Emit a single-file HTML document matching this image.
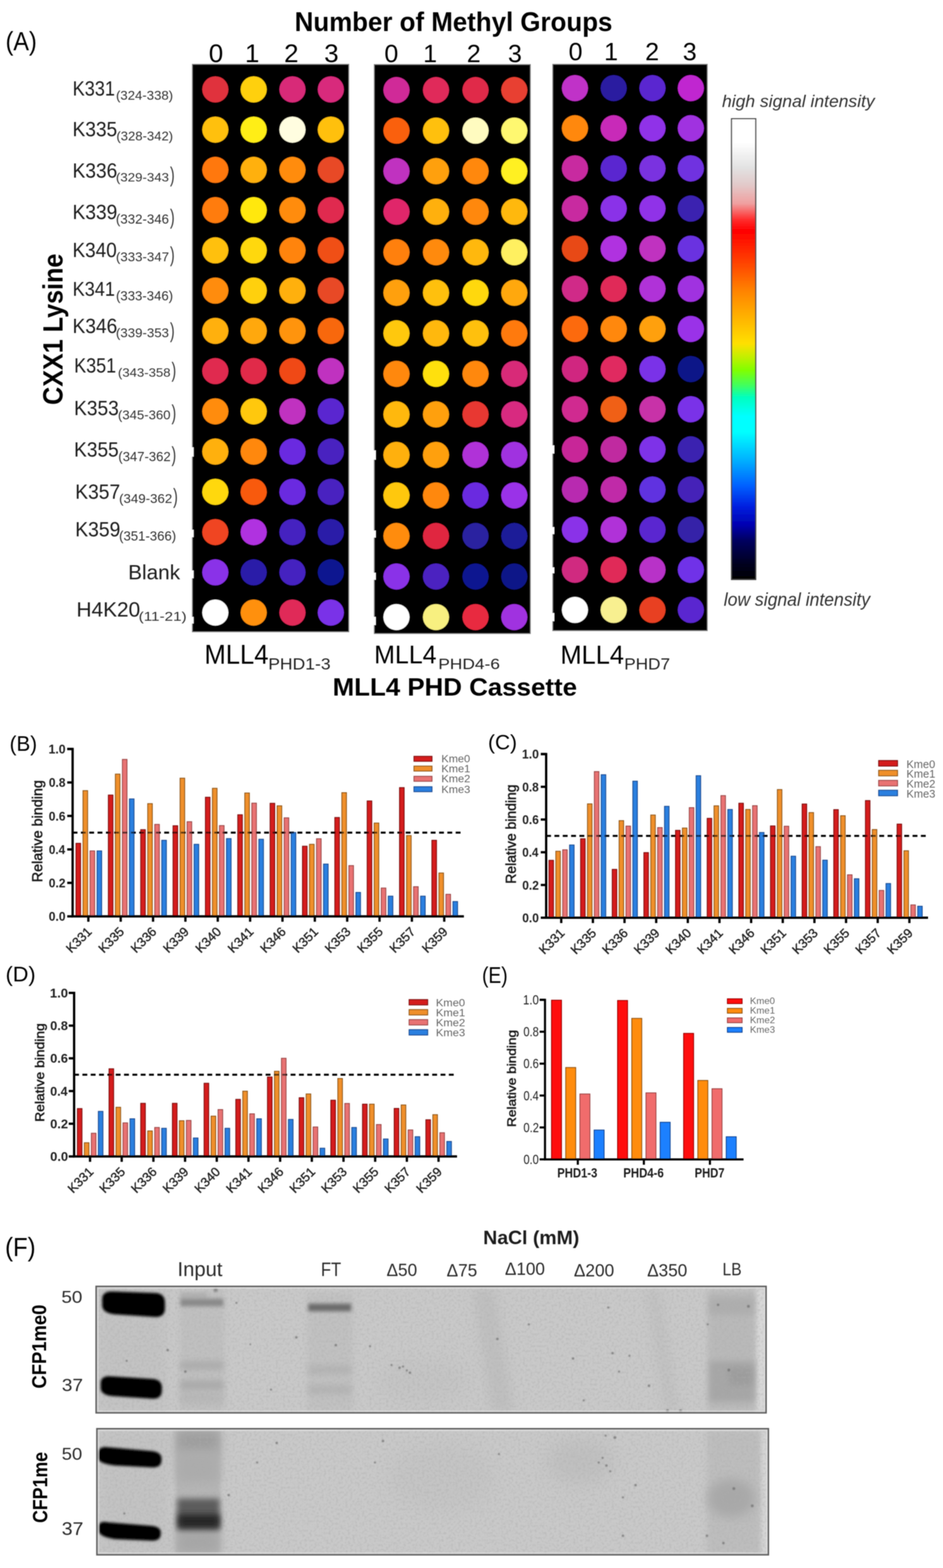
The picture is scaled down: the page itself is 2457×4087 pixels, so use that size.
<!DOCTYPE html>
<html><head><meta charset="utf-8"><title>Figure</title>
<style>
html,body{margin:0;padding:0;background:#fff;}
body{width:2457px;height:4087px;overflow:hidden;}
svg{display:block;font-family:'Liberation Sans', Arial, sans-serif;}
</style></head><body>
<svg width="2457" height="4087" viewBox="0 0 2457 4087">
<defs><filter id="soft" x="-2%" y="-2%" width="104%" height="104%"><feGaussianBlur stdDeviation="0.8"/></filter></defs>
<rect width="2457" height="4087" fill="#fff"/>
<g filter="url(#soft)">
<rect x="501" y="167.5" width="408" height="1479.5" fill="#000" stroke="#8a8a8a" stroke-width="2"/>
<circle cx="561" cy="233.0" r="34" fill="#e0303c"/>
<circle cx="661" cy="233.0" r="34" fill="#ffd010"/>
<circle cx="762" cy="233.0" r="34" fill="#d82a78"/>
<circle cx="862" cy="233.0" r="34" fill="#d82a7c"/>
<circle cx="561" cy="337.9" r="34" fill="#ffc010"/>
<circle cx="661" cy="337.9" r="34" fill="#ffee18"/>
<circle cx="762" cy="337.9" r="34" fill="#fffde0"/>
<circle cx="862" cy="337.9" r="34" fill="#ffc010"/>
<circle cx="561" cy="442.8" r="34" fill="#ff7810"/>
<circle cx="661" cy="442.8" r="34" fill="#ffb010"/>
<circle cx="762" cy="442.8" r="34" fill="#ff8c10"/>
<circle cx="862" cy="442.8" r="34" fill="#e84a28"/>
<circle cx="561" cy="547.7" r="34" fill="#ff7c10"/>
<circle cx="661" cy="547.7" r="34" fill="#ffe810"/>
<circle cx="762" cy="547.7" r="34" fill="#ff8c10"/>
<circle cx="862" cy="547.7" r="34" fill="#e02a50"/>
<circle cx="561" cy="652.6" r="34" fill="#ffc010"/>
<circle cx="661" cy="652.6" r="34" fill="#ffd810"/>
<circle cx="762" cy="652.6" r="34" fill="#ff8410"/>
<circle cx="862" cy="652.6" r="34" fill="#f05018"/>
<circle cx="561" cy="757.5" r="34" fill="#ff8c10"/>
<circle cx="661" cy="757.5" r="34" fill="#ffd010"/>
<circle cx="762" cy="757.5" r="34" fill="#ffb010"/>
<circle cx="862" cy="757.5" r="34" fill="#e84a28"/>
<circle cx="561" cy="862.4" r="34" fill="#ffb010"/>
<circle cx="661" cy="862.4" r="34" fill="#ffa810"/>
<circle cx="762" cy="862.4" r="34" fill="#ff9410"/>
<circle cx="862" cy="862.4" r="34" fill="#f86810"/>
<circle cx="561" cy="967.3" r="34" fill="#e02a50"/>
<circle cx="661" cy="967.3" r="34" fill="#e02a48"/>
<circle cx="762" cy="967.3" r="34" fill="#f04818"/>
<circle cx="862" cy="967.3" r="34" fill="#c030c0"/>
<circle cx="561" cy="1072.2" r="34" fill="#ff8c10"/>
<circle cx="661" cy="1072.2" r="34" fill="#ffc810"/>
<circle cx="762" cy="1072.2" r="34" fill="#c030c0"/>
<circle cx="862" cy="1072.2" r="34" fill="#5a28d0"/>
<circle cx="561" cy="1177.1" r="34" fill="#ffb010"/>
<circle cx="661" cy="1177.1" r="34" fill="#ff8810"/>
<circle cx="762" cy="1177.1" r="34" fill="#6a2ae0"/>
<circle cx="862" cy="1177.1" r="34" fill="#4a24c0"/>
<circle cx="561" cy="1282.0" r="34" fill="#ffd810"/>
<circle cx="661" cy="1282.0" r="34" fill="#f85a10"/>
<circle cx="762" cy="1282.0" r="34" fill="#6a2ae0"/>
<circle cx="862" cy="1282.0" r="34" fill="#4a24c0"/>
<circle cx="561" cy="1386.9" r="34" fill="#f04420"/>
<circle cx="661" cy="1386.9" r="34" fill="#b030e0"/>
<circle cx="762" cy="1386.9" r="34" fill="#4424c0"/>
<circle cx="862" cy="1386.9" r="34" fill="#2a1ca8"/>
<circle cx="561" cy="1491.8" r="34" fill="#8a30e8"/>
<circle cx="661" cy="1491.8" r="34" fill="#2a1ca8"/>
<circle cx="762" cy="1491.8" r="34" fill="#4424c0"/>
<circle cx="862" cy="1491.8" r="34" fill="#101890"/>
<circle cx="561" cy="1596.7" r="34" fill="#ffffff"/>
<circle cx="661" cy="1596.7" r="34" fill="#ff9010"/>
<circle cx="762" cy="1596.7" r="34" fill="#e02a58"/>
<circle cx="862" cy="1596.7" r="34" fill="#7a30e8"/>
<rect x="975" y="168" width="407" height="1483.5" fill="#000" stroke="#8a8a8a" stroke-width="2"/>
<circle cx="1033" cy="234.8" r="34" fill="#d02a98"/>
<circle cx="1136" cy="234.8" r="34" fill="#e02a5a"/>
<circle cx="1239" cy="234.8" r="34" fill="#e02a48"/>
<circle cx="1340" cy="234.8" r="34" fill="#e84030"/>
<circle cx="1033" cy="340.5" r="34" fill="#fa6010"/>
<circle cx="1136" cy="340.5" r="34" fill="#ffc010"/>
<circle cx="1239" cy="340.5" r="34" fill="#fffbc0"/>
<circle cx="1340" cy="340.5" r="34" fill="#fff870"/>
<circle cx="1033" cy="446.1" r="34" fill="#c030c0"/>
<circle cx="1136" cy="446.1" r="34" fill="#ffa010"/>
<circle cx="1239" cy="446.1" r="34" fill="#ff8810"/>
<circle cx="1340" cy="446.1" r="34" fill="#fff020"/>
<circle cx="1033" cy="551.8" r="34" fill="#e0286a"/>
<circle cx="1136" cy="551.8" r="34" fill="#ffb010"/>
<circle cx="1239" cy="551.8" r="34" fill="#ff8810"/>
<circle cx="1340" cy="551.8" r="34" fill="#ffb810"/>
<circle cx="1033" cy="657.4" r="34" fill="#ff8010"/>
<circle cx="1136" cy="657.4" r="34" fill="#ff8a10"/>
<circle cx="1239" cy="657.4" r="34" fill="#ffb810"/>
<circle cx="1340" cy="657.4" r="34" fill="#fff060"/>
<circle cx="1033" cy="763.1" r="34" fill="#ffa010"/>
<circle cx="1136" cy="763.1" r="34" fill="#ffc010"/>
<circle cx="1239" cy="763.1" r="34" fill="#ffd810"/>
<circle cx="1340" cy="763.1" r="34" fill="#ffa810"/>
<circle cx="1033" cy="868.8" r="34" fill="#ffc810"/>
<circle cx="1136" cy="868.8" r="34" fill="#ffb810"/>
<circle cx="1239" cy="868.8" r="34" fill="#ffc010"/>
<circle cx="1340" cy="868.8" r="34" fill="#ff7a10"/>
<circle cx="1033" cy="974.4" r="34" fill="#ff8810"/>
<circle cx="1136" cy="974.4" r="34" fill="#ffe010"/>
<circle cx="1239" cy="974.4" r="34" fill="#ff8810"/>
<circle cx="1340" cy="974.4" r="34" fill="#d82a78"/>
<circle cx="1033" cy="1080.1" r="34" fill="#ffb810"/>
<circle cx="1136" cy="1080.1" r="34" fill="#ffa010"/>
<circle cx="1239" cy="1080.1" r="34" fill="#e83830"/>
<circle cx="1340" cy="1080.1" r="34" fill="#d82a80"/>
<circle cx="1033" cy="1185.7" r="34" fill="#ffb010"/>
<circle cx="1136" cy="1185.7" r="34" fill="#ffa010"/>
<circle cx="1239" cy="1185.7" r="34" fill="#b030d8"/>
<circle cx="1340" cy="1185.7" r="34" fill="#a030e0"/>
<circle cx="1033" cy="1291.4" r="34" fill="#ffc810"/>
<circle cx="1136" cy="1291.4" r="34" fill="#ff8810"/>
<circle cx="1239" cy="1291.4" r="34" fill="#6a2ae0"/>
<circle cx="1340" cy="1291.4" r="34" fill="#9a30e8"/>
<circle cx="1033" cy="1397.1" r="34" fill="#ff8c10"/>
<circle cx="1136" cy="1397.1" r="34" fill="#e02840"/>
<circle cx="1239" cy="1397.1" r="34" fill="#2a20a0"/>
<circle cx="1340" cy="1397.1" r="34" fill="#1c1c98"/>
<circle cx="1033" cy="1502.7" r="34" fill="#8a30e8"/>
<circle cx="1136" cy="1502.7" r="34" fill="#4c24c0"/>
<circle cx="1239" cy="1502.7" r="34" fill="#101890"/>
<circle cx="1340" cy="1502.7" r="34" fill="#101888"/>
<circle cx="1033" cy="1608.4" r="34" fill="#ffffff"/>
<circle cx="1136" cy="1608.4" r="34" fill="#f8f080"/>
<circle cx="1239" cy="1608.4" r="34" fill="#e82a40"/>
<circle cx="1340" cy="1608.4" r="34" fill="#a030e0"/>
<rect x="1440" y="167.5" width="403" height="1476.5" fill="#000" stroke="#8a8a8a" stroke-width="2"/>
<circle cx="1498" cy="229.7" r="34" fill="#c030c8"/>
<circle cx="1599" cy="229.7" r="34" fill="#2a1aa0"/>
<circle cx="1700" cy="229.7" r="34" fill="#5a28d0"/>
<circle cx="1800" cy="229.7" r="34" fill="#c028d0"/>
<circle cx="1498" cy="334.3" r="34" fill="#ff8810"/>
<circle cx="1599" cy="334.3" r="34" fill="#c82ab8"/>
<circle cx="1700" cy="334.3" r="34" fill="#9030e8"/>
<circle cx="1800" cy="334.3" r="34" fill="#a030e0"/>
<circle cx="1498" cy="438.9" r="34" fill="#c82aa0"/>
<circle cx="1599" cy="438.9" r="34" fill="#5a28d0"/>
<circle cx="1700" cy="438.9" r="34" fill="#7a30e0"/>
<circle cx="1800" cy="438.9" r="34" fill="#7030e0"/>
<circle cx="1498" cy="543.6" r="34" fill="#c82aa0"/>
<circle cx="1599" cy="543.6" r="34" fill="#8a30e8"/>
<circle cx="1700" cy="543.6" r="34" fill="#9030e8"/>
<circle cx="1800" cy="543.6" r="34" fill="#3a22b0"/>
<circle cx="1498" cy="648.2" r="34" fill="#e84818"/>
<circle cx="1599" cy="648.2" r="34" fill="#b030e0"/>
<circle cx="1700" cy="648.2" r="34" fill="#c030c0"/>
<circle cx="1800" cy="648.2" r="34" fill="#6a30e0"/>
<circle cx="1498" cy="752.8" r="34" fill="#d02a88"/>
<circle cx="1599" cy="752.8" r="34" fill="#e02a58"/>
<circle cx="1700" cy="752.8" r="34" fill="#b030d8"/>
<circle cx="1800" cy="752.8" r="34" fill="#a030e0"/>
<circle cx="1498" cy="857.4" r="34" fill="#fc6a10"/>
<circle cx="1599" cy="857.4" r="34" fill="#ff8810"/>
<circle cx="1700" cy="857.4" r="34" fill="#ffa010"/>
<circle cx="1800" cy="857.4" r="34" fill="#9a30e8"/>
<circle cx="1498" cy="962.0" r="34" fill="#d02880"/>
<circle cx="1599" cy="962.0" r="34" fill="#e02a60"/>
<circle cx="1700" cy="962.0" r="34" fill="#7a30e8"/>
<circle cx="1800" cy="962.0" r="34" fill="#101888"/>
<circle cx="1498" cy="1066.7" r="34" fill="#d02a90"/>
<circle cx="1599" cy="1066.7" r="34" fill="#f06018"/>
<circle cx="1700" cy="1066.7" r="34" fill="#c830a8"/>
<circle cx="1800" cy="1066.7" r="34" fill="#7a30e8"/>
<circle cx="1498" cy="1171.3" r="34" fill="#c82898"/>
<circle cx="1599" cy="1171.3" r="34" fill="#c02ca0"/>
<circle cx="1700" cy="1171.3" r="34" fill="#7e30e8"/>
<circle cx="1800" cy="1171.3" r="34" fill="#3a22b0"/>
<circle cx="1498" cy="1275.9" r="34" fill="#b82ab0"/>
<circle cx="1599" cy="1275.9" r="34" fill="#c02aa8"/>
<circle cx="1700" cy="1275.9" r="34" fill="#6030e0"/>
<circle cx="1800" cy="1275.9" r="34" fill="#4424b8"/>
<circle cx="1498" cy="1380.5" r="34" fill="#8a30e8"/>
<circle cx="1599" cy="1380.5" r="34" fill="#b030d8"/>
<circle cx="1700" cy="1380.5" r="34" fill="#5a28d0"/>
<circle cx="1800" cy="1380.5" r="34" fill="#3420a8"/>
<circle cx="1498" cy="1485.1" r="34" fill="#d02a80"/>
<circle cx="1599" cy="1485.1" r="34" fill="#e02a58"/>
<circle cx="1700" cy="1485.1" r="34" fill="#b830c8"/>
<circle cx="1800" cy="1485.1" r="34" fill="#7030e8"/>
<circle cx="1498" cy="1589.8" r="34" fill="#ffffff"/>
<circle cx="1599" cy="1589.8" r="34" fill="#f8f090"/>
<circle cx="1700" cy="1589.8" r="34" fill="#e84020"/>
<circle cx="1800" cy="1589.8" r="34" fill="#5a28d0"/>
<rect x="499" y="1166" width="5.5" height="24" fill="#fff"/>
<rect x="499" y="1381" width="5.5" height="19" fill="#fff"/>
<rect x="499" y="1487" width="5.5" height="20" fill="#fff"/>
<rect x="499" y="1608" width="5.5" height="17" fill="#fff"/>
<rect x="973.5" y="1174" width="5.5" height="24" fill="#fff"/>
<rect x="973.5" y="1383" width="5.5" height="18" fill="#fff"/>
<rect x="973.5" y="1493" width="5.5" height="18" fill="#fff"/>
<rect x="973.5" y="1608" width="5.5" height="21" fill="#fff"/>
<rect x="1438.5" y="1161" width="5.5" height="21" fill="#fff"/>
<rect x="1438.5" y="1374" width="5.5" height="18" fill="#fff"/>
<rect x="1438.5" y="1479" width="5.5" height="15" fill="#fff"/>
<rect x="1438.5" y="1598" width="5.5" height="21" fill="#fff"/>
<text x="544.0" y="162.3" font-size="67.53" text-anchor="start">0</text>
<text x="638.3" y="162.3" font-size="67.53" text-anchor="start">1</text>
<text x="740.3" y="162.3" font-size="67.53" text-anchor="start">2</text>
<text x="844.7" y="162.3" font-size="67.53" text-anchor="start">3</text>
<text x="1001.5" y="162.3" font-size="65.23" text-anchor="start">0</text>
<text x="1102.6" y="162.3" font-size="65.23" text-anchor="start">1</text>
<text x="1216.3" y="162.3" font-size="65.23" text-anchor="start">2</text>
<text x="1323.4" y="162.3" font-size="65.23" text-anchor="start">3</text>
<text x="1481.5" y="157.3" font-size="65.23" text-anchor="start">0</text>
<text x="1574.0" y="157.3" font-size="65.23" text-anchor="start">1</text>
<text x="1681.1" y="157.3" font-size="65.23" text-anchor="start">2</text>
<text x="1779.1" y="157.3" font-size="65.23" text-anchor="start">3</text>
<text x="14.4" y="130.8" font-size="68.65" text-anchor="start" textLength="81.6" lengthAdjust="spacingAndGlyphs">(A)</text>
<text x="767.8" y="80.8" font-size="70.4" text-anchor="start" font-weight="bold" textLength="827.8" lengthAdjust="spacingAndGlyphs">Number of Methyl Groups</text>
<text x="866.7" y="1812.7" font-size="65.16" text-anchor="start" font-weight="bold" textLength="636.7" lengthAdjust="spacingAndGlyphs">MLL4 PHD Cassette</text>
<text x="532.8" y="1729.6" font-size="69.53" text-anchor="start" textLength="166.7" lengthAdjust="spacingAndGlyphs">MLL4</text>
<text x="698.9" y="1744.8" font-size="41.89" text-anchor="start" fill="#222" textLength="162.5" lengthAdjust="spacingAndGlyphs">PHD1-3</text>
<text x="975.1" y="1729.2" font-size="67.2" text-anchor="start" textLength="162.2" lengthAdjust="spacingAndGlyphs">MLL4</text>
<text x="1141.9" y="1744.3" font-size="39.71" text-anchor="start" fill="#222" textLength="160.7" lengthAdjust="spacingAndGlyphs">PHD4-6</text>
<text x="1460.2" y="1729.6" font-size="68.51" text-anchor="start" textLength="165.7" lengthAdjust="spacingAndGlyphs">MLL4</text>
<text x="1626.4" y="1744.8" font-size="41.89" text-anchor="start" fill="#222" textLength="119.5" lengthAdjust="spacingAndGlyphs">PHD7</text>
<text x="189.2" y="248.5" font-size="52.95" text-anchor="start" fill="#1a1a1a" textLength="110.3" lengthAdjust="spacingAndGlyphs">K331</text>
<text x="302.2" y="259.6" font-size="33.26" text-anchor="start" fill="#333" textLength="148.8" lengthAdjust="spacingAndGlyphs">(324-338)</text>
<text x="189.0" y="354.6" font-size="54.4" text-anchor="start" fill="#1a1a1a" textLength="116.3" lengthAdjust="spacingAndGlyphs">K335</text>
<text x="303.2" y="365.8" font-size="33.41" text-anchor="start" fill="#333" textLength="147.8" lengthAdjust="spacingAndGlyphs">(328-342)</text>
<text x="189.0" y="462.8" font-size="52.95" text-anchor="start" fill="#1a1a1a" textLength="116.5" lengthAdjust="spacingAndGlyphs">K336</text>
<text x="302.1" y="472.9" font-size="31.83" text-anchor="start" fill="#333" textLength="138.2" lengthAdjust="spacingAndGlyphs">(329-343</text>
<text x="443.1" y="474.4" font-size="55.17" text-anchor="start" fill="#333" textLength="11.9" lengthAdjust="spacingAndGlyphs">)</text>
<text x="189.0" y="570.5" font-size="52.95" text-anchor="start" fill="#1a1a1a" textLength="116.6" lengthAdjust="spacingAndGlyphs">K339</text>
<text x="302.1" y="582.7" font-size="34.84" text-anchor="start" fill="#333" textLength="138.2" lengthAdjust="spacingAndGlyphs">(332-346</text>
<text x="443.1" y="584.2" font-size="55.17" text-anchor="start" fill="#333" textLength="11.9" lengthAdjust="spacingAndGlyphs">)</text>
<text x="189.0" y="669.6" font-size="54.4" text-anchor="start" fill="#1a1a1a" textLength="115.1" lengthAdjust="spacingAndGlyphs">K340</text>
<text x="302.1" y="680.7" font-size="33.26" text-anchor="start" fill="#333" textLength="138.5" lengthAdjust="spacingAndGlyphs">(333-347</text>
<text x="443.1" y="682.2" font-size="55.17" text-anchor="start" fill="#333" textLength="11.9" lengthAdjust="spacingAndGlyphs">)</text>
<text x="189.2" y="770.7" font-size="51.49" text-anchor="start" fill="#1a1a1a" textLength="110.3" lengthAdjust="spacingAndGlyphs">K341</text>
<text x="302.2" y="782.8" font-size="34.84" text-anchor="start" fill="#333" textLength="148.8" lengthAdjust="spacingAndGlyphs">(333-346)</text>
<text x="189.0" y="867.5" font-size="52.95" text-anchor="start" fill="#1a1a1a" textLength="116.5" lengthAdjust="spacingAndGlyphs">K346</text>
<text x="302.1" y="878.6" font-size="33.26" text-anchor="start" fill="#333" textLength="138.2" lengthAdjust="spacingAndGlyphs">(339-353</text>
<text x="443.1" y="880.1" font-size="55.17" text-anchor="start" fill="#333" textLength="11.9" lengthAdjust="spacingAndGlyphs">)</text>
<text x="193.3" y="970.6" font-size="52.95" text-anchor="start" fill="#1a1a1a" textLength="109.2" lengthAdjust="spacingAndGlyphs">K351</text>
<text x="307.3" y="981.7" font-size="31.83" text-anchor="start" fill="#333" textLength="137.1" lengthAdjust="spacingAndGlyphs">(343-358</text>
<text x="447.1" y="983.2" font-size="55.17" text-anchor="start" fill="#333" textLength="11.9" lengthAdjust="spacingAndGlyphs">)</text>
<text x="193.1" y="1081.8" font-size="52.95" text-anchor="start" fill="#1a1a1a" textLength="116.4" lengthAdjust="spacingAndGlyphs">K353</text>
<text x="307.3" y="1092.9" font-size="33.41" text-anchor="start" fill="#333" textLength="136.9" lengthAdjust="spacingAndGlyphs">(345-360</text>
<text x="447.1" y="1094.4" font-size="55.17" text-anchor="start" fill="#333" textLength="11.9" lengthAdjust="spacingAndGlyphs">)</text>
<text x="193.1" y="1189.5" font-size="52.95" text-anchor="start" fill="#1a1a1a" textLength="116.2" lengthAdjust="spacingAndGlyphs">K355</text>
<text x="308.3" y="1201.7" font-size="34.84" text-anchor="start" fill="#333" textLength="136.4" lengthAdjust="spacingAndGlyphs">(347-362</text>
<text x="447.1" y="1203.2" font-size="55.17" text-anchor="start" fill="#333" textLength="11.9" lengthAdjust="spacingAndGlyphs">)</text>
<text x="196.1" y="1299.7" font-size="52.95" text-anchor="start" fill="#1a1a1a" textLength="116.9" lengthAdjust="spacingAndGlyphs">K357</text>
<text x="310.2" y="1310.8" font-size="33.26" text-anchor="start" fill="#333" textLength="138.5" lengthAdjust="spacingAndGlyphs">(349-362</text>
<text x="451.2" y="1312.3" font-size="55.17" text-anchor="start" fill="#333" textLength="11.9" lengthAdjust="spacingAndGlyphs">)</text>
<text x="196.0" y="1397.7" font-size="52.95" text-anchor="start" fill="#1a1a1a" textLength="117.6" lengthAdjust="spacingAndGlyphs">K359</text>
<text x="310.3" y="1408.9" font-size="34.84" text-anchor="start" fill="#333" textLength="148.7" lengthAdjust="spacingAndGlyphs">(351-366)</text>
<text x="199.2" y="1607.3" font-size="53.96" text-anchor="start" fill="#1a1a1a" textLength="166.1" lengthAdjust="spacingAndGlyphs">H4K20</text>
<text x="361.2" y="1617.6" font-size="33.98" text-anchor="start" fill="#333" textLength="125.1" lengthAdjust="spacingAndGlyphs">(11-21)</text>
<text x="334.0" y="1509.7" font-size="52.95" text-anchor="start" fill="#1a1a1a" textLength="135.2" lengthAdjust="spacingAndGlyphs">Blank</text>
<text x="163.3" y="1055.4" font-size="72.44" text-anchor="start" font-weight="bold" textLength="394.3" lengthAdjust="spacingAndGlyphs" transform="rotate(-90 163.3 1055.4)">CXX1 Lysine</text>
<defs><linearGradient id="cbar" x1="0" y1="0" x2="0" y2="1"><stop offset="0%" stop-color="#ffffff"/><stop offset="5.1%" stop-color="#ffffff"/><stop offset="10.6%" stop-color="#e2e2e2"/><stop offset="14.3%" stop-color="#e2caca"/><stop offset="18.4%" stop-color="#f0a0a0"/><stop offset="21.8%" stop-color="#ff3030"/><stop offset="24.3%" stop-color="#ff0000"/><stop offset="31%" stop-color="#ff4000"/><stop offset="37%" stop-color="#ff8000"/><stop offset="42.8%" stop-color="#ffb000"/><stop offset="48.8%" stop-color="#ffe000"/><stop offset="51.8%" stop-color="#c0f000"/><stop offset="54.6%" stop-color="#80ff00"/><stop offset="57.9%" stop-color="#40ff60"/><stop offset="60.5%" stop-color="#00ffc0"/><stop offset="64.6%" stop-color="#00ffff"/><stop offset="68%" stop-color="#00ffff"/><stop offset="74.1%" stop-color="#00b0ff"/><stop offset="79.7%" stop-color="#0060ff"/><stop offset="84.1%" stop-color="#0020e0"/><stop offset="88.2%" stop-color="#0000b0"/><stop offset="91.5%" stop-color="#000060"/><stop offset="96.6%" stop-color="#000020"/><stop offset="100%" stop-color="#000000"/></linearGradient></defs>
<rect x="1906" y="309.5" width="63" height="1201" fill="url(#cbar)" stroke="#444" stroke-width="3"/>
<text x="1881.2" y="279.2" font-size="44.14" text-anchor="start" font-style="italic" fill="#333" textLength="397.8" lengthAdjust="spacingAndGlyphs">high signal intensity</text>
<text x="1885.8" y="1578.5" font-size="47.59" text-anchor="start" font-style="italic" fill="#333" textLength="381.3" lengthAdjust="spacingAndGlyphs">low signal intensity</text>
</g>
<g filter="url(#soft)">
<line x1="189.2" y1="2170.3" x2="1208.7" y2="2170.3" stroke="#000" stroke-width="5" stroke-dasharray="12.5 9.2"/>
<rect x="198.0" y="2198.1" width="12.0" height="190.4" fill="#d41a1a" stroke="#7a1010" stroke-width="2.2"/>
<rect x="216.3" y="2060.8" width="12.0" height="327.7" fill="#ef8f2c" stroke="#8c5418" stroke-width="2.2"/>
<rect x="234.6" y="2217.9" width="12.0" height="170.6" fill="#e87272" stroke="#984444" stroke-width="2.2"/>
<rect x="252.9" y="2217.9" width="12.0" height="170.6" fill="#2c7fdf" stroke="#1a4890" stroke-width="2.2"/>
<rect x="282.3" y="2072.3" width="12.0" height="316.2" fill="#d41a1a" stroke="#7a1010" stroke-width="2.2"/>
<rect x="300.6" y="2017.7" width="12.0" height="370.8" fill="#ef8f2c" stroke="#8c5418" stroke-width="2.2"/>
<rect x="318.9" y="1979.4" width="12.0" height="409.1" fill="#e87272" stroke="#984444" stroke-width="2.2"/>
<rect x="337.2" y="2082.4" width="12.0" height="306.1" fill="#2c7fdf" stroke="#1a4890" stroke-width="2.2"/>
<rect x="366.6" y="2162.5" width="12.0" height="226.0" fill="#d41a1a" stroke="#7a1010" stroke-width="2.2"/>
<rect x="384.9" y="2094.7" width="12.0" height="293.8" fill="#ef8f2c" stroke="#8c5418" stroke-width="2.2"/>
<rect x="403.2" y="2148.8" width="12.0" height="239.7" fill="#e87272" stroke="#984444" stroke-width="2.2"/>
<rect x="421.5" y="2190.2" width="12.0" height="198.3" fill="#2c7fdf" stroke="#1a4890" stroke-width="2.2"/>
<rect x="450.9" y="2152.3" width="12.0" height="236.2" fill="#d41a1a" stroke="#7a1010" stroke-width="2.2"/>
<rect x="469.2" y="2028.3" width="12.0" height="360.2" fill="#ef8f2c" stroke="#8c5418" stroke-width="2.2"/>
<rect x="487.5" y="2141.8" width="12.0" height="246.7" fill="#e87272" stroke="#984444" stroke-width="2.2"/>
<rect x="505.8" y="2200.7" width="12.0" height="187.8" fill="#2c7fdf" stroke="#1a4890" stroke-width="2.2"/>
<rect x="535.2" y="2078.0" width="12.0" height="310.5" fill="#d41a1a" stroke="#7a1010" stroke-width="2.2"/>
<rect x="553.5" y="2054.7" width="12.0" height="333.8" fill="#ef8f2c" stroke="#8c5418" stroke-width="2.2"/>
<rect x="571.8" y="2151.9" width="12.0" height="236.6" fill="#e87272" stroke="#984444" stroke-width="2.2"/>
<rect x="590.1" y="2185.8" width="12.0" height="202.7" fill="#2c7fdf" stroke="#1a4890" stroke-width="2.2"/>
<rect x="619.5" y="2123.7" width="12.0" height="264.8" fill="#d41a1a" stroke="#7a1010" stroke-width="2.2"/>
<rect x="637.8" y="2067.0" width="12.0" height="321.5" fill="#ef8f2c" stroke="#8c5418" stroke-width="2.2"/>
<rect x="656.1" y="2093.4" width="12.0" height="295.1" fill="#e87272" stroke="#984444" stroke-width="2.2"/>
<rect x="674.4" y="2187.5" width="12.0" height="201.0" fill="#2c7fdf" stroke="#1a4890" stroke-width="2.2"/>
<rect x="703.8" y="2093.8" width="12.0" height="294.7" fill="#d41a1a" stroke="#7a1010" stroke-width="2.2"/>
<rect x="722.1" y="2100.4" width="12.0" height="288.1" fill="#ef8f2c" stroke="#8c5418" stroke-width="2.2"/>
<rect x="740.4" y="2131.7" width="12.0" height="256.8" fill="#e87272" stroke="#984444" stroke-width="2.2"/>
<rect x="758.7" y="2169.9" width="12.0" height="218.6" fill="#2c7fdf" stroke="#1a4890" stroke-width="2.2"/>
<rect x="788.1" y="2205.6" width="12.0" height="182.9" fill="#d41a1a" stroke="#7a1010" stroke-width="2.2"/>
<rect x="806.4" y="2200.7" width="12.0" height="187.8" fill="#ef8f2c" stroke="#8c5418" stroke-width="2.2"/>
<rect x="824.7" y="2186.2" width="12.0" height="202.3" fill="#e87272" stroke="#984444" stroke-width="2.2"/>
<rect x="843.0" y="2252.2" width="12.0" height="136.3" fill="#2c7fdf" stroke="#1a4890" stroke-width="2.2"/>
<rect x="872.4" y="2130.8" width="12.0" height="257.7" fill="#d41a1a" stroke="#7a1010" stroke-width="2.2"/>
<rect x="890.7" y="2066.1" width="12.0" height="322.4" fill="#ef8f2c" stroke="#8c5418" stroke-width="2.2"/>
<rect x="909.0" y="2256.2" width="12.0" height="132.3" fill="#e87272" stroke="#984444" stroke-width="2.2"/>
<rect x="927.3" y="2326.1" width="12.0" height="62.4" fill="#2c7fdf" stroke="#1a4890" stroke-width="2.2"/>
<rect x="956.7" y="2087.7" width="12.0" height="300.8" fill="#d41a1a" stroke="#7a1010" stroke-width="2.2"/>
<rect x="975.0" y="2145.3" width="12.0" height="243.2" fill="#ef8f2c" stroke="#8c5418" stroke-width="2.2"/>
<rect x="993.3" y="2314.7" width="12.0" height="73.8" fill="#e87272" stroke="#984444" stroke-width="2.2"/>
<rect x="1011.6" y="2335.8" width="12.0" height="52.7" fill="#2c7fdf" stroke="#1a4890" stroke-width="2.2"/>
<rect x="1041.0" y="2052.9" width="12.0" height="335.6" fill="#d41a1a" stroke="#7a1010" stroke-width="2.2"/>
<rect x="1059.3" y="2177.9" width="12.0" height="210.6" fill="#ef8f2c" stroke="#8c5418" stroke-width="2.2"/>
<rect x="1077.6" y="2311.2" width="12.0" height="77.3" fill="#e87272" stroke="#984444" stroke-width="2.2"/>
<rect x="1095.9" y="2335.8" width="12.0" height="52.7" fill="#2c7fdf" stroke="#1a4890" stroke-width="2.2"/>
<rect x="1125.3" y="2190.2" width="12.0" height="198.3" fill="#d41a1a" stroke="#7a1010" stroke-width="2.2"/>
<rect x="1143.6" y="2275.5" width="12.0" height="113.0" fill="#ef8f2c" stroke="#8c5418" stroke-width="2.2"/>
<rect x="1161.9" y="2331.0" width="12.0" height="57.5" fill="#e87272" stroke="#984444" stroke-width="2.2"/>
<rect x="1180.2" y="2349.9" width="12.0" height="38.6" fill="#2c7fdf" stroke="#1a4890" stroke-width="2.2"/>
<line x1="189.2" y1="2170.3" x2="1208.7" y2="2170.3" stroke="#000" stroke-width="5" stroke-dasharray="12.5 9.2" opacity="0.6"/>
<path d="M175.2,1952.2 H189.2 V2388.5 H1208.7" fill="none" stroke="#000" stroke-width="6" stroke-linejoin="miter"/>
<line x1="175.2" y1="2388.5" x2="189.2" y2="2388.5" stroke="#000" stroke-width="6"/>
<text x="127.1" y="2400.3" font-size="33.84" text-anchor="start" font-weight="bold" fill="#222" textLength="43.7" lengthAdjust="spacingAndGlyphs">0.0</text>
<line x1="175.2" y1="2301.2" x2="189.2" y2="2301.2" stroke="#000" stroke-width="6"/>
<text x="127.1" y="2313.0" font-size="33.84" text-anchor="start" font-weight="bold" fill="#222" textLength="43.6" lengthAdjust="spacingAndGlyphs">0.2</text>
<line x1="175.2" y1="2214.0" x2="189.2" y2="2214.0" stroke="#000" stroke-width="6"/>
<text x="127.2" y="2225.8" font-size="33.84" text-anchor="start" font-weight="bold" fill="#222" textLength="42.6" lengthAdjust="spacingAndGlyphs">0.4</text>
<line x1="175.2" y1="2126.7" x2="189.2" y2="2126.7" stroke="#000" stroke-width="6"/>
<text x="127.1" y="2138.5" font-size="33.84" text-anchor="start" font-weight="bold" fill="#222" textLength="43.6" lengthAdjust="spacingAndGlyphs">0.6</text>
<line x1="175.2" y1="2039.5" x2="189.2" y2="2039.5" stroke="#000" stroke-width="6"/>
<text x="127.2" y="2051.3" font-size="33.84" text-anchor="start" font-weight="bold" fill="#222" textLength="43.4" lengthAdjust="spacingAndGlyphs">0.8</text>
<line x1="175.2" y1="1952.2" x2="189.2" y2="1952.2" stroke="#000" stroke-width="6"/>
<text x="126.4" y="1964.0" font-size="33.84" text-anchor="start" font-weight="bold" fill="#222" textLength="44.5" lengthAdjust="spacingAndGlyphs">1.0</text>
<line x1="230.2" y1="2388.5" x2="230.2" y2="2402.5" stroke="#000" stroke-width="6"/>
<text x="241.2" y="2430.5" font-size="33.5" text-anchor="end" fill="#222" transform="rotate(-45 241.2 2430.5)" stroke="#222" stroke-width="0.8">K331</text>
<line x1="314.5" y1="2388.5" x2="314.5" y2="2402.5" stroke="#000" stroke-width="6"/>
<text x="325.5" y="2430.5" font-size="33.5" text-anchor="end" fill="#222" transform="rotate(-45 325.5 2430.5)" stroke="#222" stroke-width="0.8">K335</text>
<line x1="398.8" y1="2388.5" x2="398.8" y2="2402.5" stroke="#000" stroke-width="6"/>
<text x="409.8" y="2430.5" font-size="33.5" text-anchor="end" fill="#222" transform="rotate(-45 409.8 2430.5)" stroke="#222" stroke-width="0.8">K336</text>
<line x1="483.1" y1="2388.5" x2="483.1" y2="2402.5" stroke="#000" stroke-width="6"/>
<text x="494.1" y="2430.5" font-size="33.5" text-anchor="end" fill="#222" transform="rotate(-45 494.1 2430.5)" stroke="#222" stroke-width="0.8">K339</text>
<line x1="567.4" y1="2388.5" x2="567.4" y2="2402.5" stroke="#000" stroke-width="6"/>
<text x="578.4" y="2430.5" font-size="33.5" text-anchor="end" fill="#222" transform="rotate(-45 578.4 2430.5)" stroke="#222" stroke-width="0.8">K340</text>
<line x1="651.7" y1="2388.5" x2="651.7" y2="2402.5" stroke="#000" stroke-width="6"/>
<text x="662.7" y="2430.5" font-size="33.5" text-anchor="end" fill="#222" transform="rotate(-45 662.7 2430.5)" stroke="#222" stroke-width="0.8">K341</text>
<line x1="736.0" y1="2388.5" x2="736.0" y2="2402.5" stroke="#000" stroke-width="6"/>
<text x="747.0" y="2430.5" font-size="33.5" text-anchor="end" fill="#222" transform="rotate(-45 747.0 2430.5)" stroke="#222" stroke-width="0.8">K346</text>
<line x1="820.3" y1="2388.5" x2="820.3" y2="2402.5" stroke="#000" stroke-width="6"/>
<text x="831.3" y="2430.5" font-size="33.5" text-anchor="end" fill="#222" transform="rotate(-45 831.3 2430.5)" stroke="#222" stroke-width="0.8">K351</text>
<line x1="904.6" y1="2388.5" x2="904.6" y2="2402.5" stroke="#000" stroke-width="6"/>
<text x="915.6" y="2430.5" font-size="33.5" text-anchor="end" fill="#222" transform="rotate(-45 915.6 2430.5)" stroke="#222" stroke-width="0.8">K353</text>
<line x1="988.9" y1="2388.5" x2="988.9" y2="2402.5" stroke="#000" stroke-width="6"/>
<text x="999.9" y="2430.5" font-size="33.5" text-anchor="end" fill="#222" transform="rotate(-45 999.9 2430.5)" stroke="#222" stroke-width="0.8">K355</text>
<line x1="1073.2" y1="2388.5" x2="1073.2" y2="2402.5" stroke="#000" stroke-width="6"/>
<text x="1084.2" y="2430.5" font-size="33.5" text-anchor="end" fill="#222" transform="rotate(-45 1084.2 2430.5)" stroke="#222" stroke-width="0.8">K357</text>
<line x1="1157.5" y1="2388.5" x2="1157.5" y2="2402.5" stroke="#000" stroke-width="6"/>
<text x="1168.5" y="2430.5" font-size="33.5" text-anchor="end" fill="#222" transform="rotate(-45 1168.5 2430.5)" stroke="#222" stroke-width="0.8">K359</text>
<rect x="1078.6" y="1971.3" width="47" height="13" fill="#d41a1a" stroke="#7a1010" stroke-width="2.2"/>
<text x="1150.0" y="1987.2" font-size="28.51" text-anchor="start" fill="#666" textLength="75.0" lengthAdjust="spacingAndGlyphs">Kme0</text>
<rect x="1078.6" y="1996.8" width="47" height="13" fill="#ef8f2c" stroke="#8c5418" stroke-width="2.2"/>
<text x="1150.0" y="2012.7" font-size="28.51" text-anchor="start" fill="#666" textLength="75.3" lengthAdjust="spacingAndGlyphs">Kme1</text>
<rect x="1078.6" y="2023.4" width="47" height="13" fill="#e87272" stroke="#984444" stroke-width="2.2"/>
<text x="1150.0" y="2039.3" font-size="28.51" text-anchor="start" fill="#666" textLength="75.4" lengthAdjust="spacingAndGlyphs">Kme2</text>
<rect x="1078.6" y="2050.6" width="47" height="13" fill="#2c7fdf" stroke="#1a4890" stroke-width="2.2"/>
<text x="1150.0" y="2066.5" font-size="28.51" text-anchor="start" fill="#666" textLength="75.2" lengthAdjust="spacingAndGlyphs">Kme3</text>
<text x="25.1" y="1956.7" font-size="55.13" text-anchor="start" textLength="71.5" lengthAdjust="spacingAndGlyphs">(B)</text>
<text x="110.1" y="2299.5" font-size="36.83" text-anchor="start" fill="#1a1a1a" textLength="266.1" lengthAdjust="spacingAndGlyphs" transform="rotate(-90 110.1 2299.5)" stroke="#1a1a1a" stroke-width="1.1">Relative binding</text>
<line x1="1423" y1="2178.8" x2="2418" y2="2178.8" stroke="#000" stroke-width="5" stroke-dasharray="12.5 9.2"/>
<rect x="1430.3" y="2242.4" width="11.8" height="149.6" fill="#d41a1a" stroke="#7a1010" stroke-width="2.2"/>
<rect x="1448.2" y="2218.8" width="11.8" height="173.2" fill="#ef8f2c" stroke="#8c5418" stroke-width="2.2"/>
<rect x="1466.1" y="2215.0" width="11.8" height="177.0" fill="#e87272" stroke="#984444" stroke-width="2.2"/>
<rect x="1484.0" y="2202.5" width="11.8" height="189.5" fill="#2c7fdf" stroke="#1a4890" stroke-width="2.2"/>
<rect x="1512.8" y="2186.2" width="11.8" height="205.8" fill="#d41a1a" stroke="#7a1010" stroke-width="2.2"/>
<rect x="1530.7" y="2095.3" width="11.8" height="296.7" fill="#ef8f2c" stroke="#8c5418" stroke-width="2.2"/>
<rect x="1548.6" y="2011.2" width="11.8" height="380.8" fill="#e87272" stroke="#984444" stroke-width="2.2"/>
<rect x="1566.5" y="2019.3" width="11.8" height="372.7" fill="#2c7fdf" stroke="#1a4890" stroke-width="2.2"/>
<rect x="1595.2" y="2266.0" width="11.8" height="126.0" fill="#d41a1a" stroke="#7a1010" stroke-width="2.2"/>
<rect x="1613.1" y="2139.0" width="11.8" height="253.0" fill="#ef8f2c" stroke="#8c5418" stroke-width="2.2"/>
<rect x="1631.0" y="2153.2" width="11.8" height="238.8" fill="#e87272" stroke="#984444" stroke-width="2.2"/>
<rect x="1648.9" y="2036.1" width="11.8" height="355.9" fill="#2c7fdf" stroke="#1a4890" stroke-width="2.2"/>
<rect x="1677.7" y="2222.3" width="11.8" height="169.7" fill="#d41a1a" stroke="#7a1010" stroke-width="2.2"/>
<rect x="1695.6" y="2124.4" width="11.8" height="267.6" fill="#ef8f2c" stroke="#8c5418" stroke-width="2.2"/>
<rect x="1713.5" y="2157.1" width="11.8" height="234.9" fill="#e87272" stroke="#984444" stroke-width="2.2"/>
<rect x="1731.4" y="2101.7" width="11.8" height="290.3" fill="#2c7fdf" stroke="#1a4890" stroke-width="2.2"/>
<rect x="1760.1" y="2164.3" width="11.8" height="227.7" fill="#d41a1a" stroke="#7a1010" stroke-width="2.2"/>
<rect x="1778.0" y="2158.3" width="11.8" height="233.7" fill="#ef8f2c" stroke="#8c5418" stroke-width="2.2"/>
<rect x="1795.9" y="2105.1" width="11.8" height="286.9" fill="#e87272" stroke="#984444" stroke-width="2.2"/>
<rect x="1813.8" y="2021.9" width="11.8" height="370.1" fill="#2c7fdf" stroke="#1a4890" stroke-width="2.2"/>
<rect x="1842.6" y="2133.0" width="11.8" height="259.0" fill="#d41a1a" stroke="#7a1010" stroke-width="2.2"/>
<rect x="1860.5" y="2100.4" width="11.8" height="291.6" fill="#ef8f2c" stroke="#8c5418" stroke-width="2.2"/>
<rect x="1878.4" y="2073.8" width="11.8" height="318.2" fill="#e87272" stroke="#984444" stroke-width="2.2"/>
<rect x="1896.3" y="2109.9" width="11.8" height="282.1" fill="#2c7fdf" stroke="#1a4890" stroke-width="2.2"/>
<rect x="1925.1" y="2093.6" width="11.8" height="298.4" fill="#d41a1a" stroke="#7a1010" stroke-width="2.2"/>
<rect x="1943.0" y="2109.9" width="11.8" height="282.1" fill="#ef8f2c" stroke="#8c5418" stroke-width="2.2"/>
<rect x="1960.9" y="2100.0" width="11.8" height="292.0" fill="#e87272" stroke="#984444" stroke-width="2.2"/>
<rect x="1978.8" y="2169.9" width="11.8" height="222.1" fill="#2c7fdf" stroke="#1a4890" stroke-width="2.2"/>
<rect x="2007.5" y="2152.8" width="11.8" height="239.2" fill="#d41a1a" stroke="#7a1010" stroke-width="2.2"/>
<rect x="2025.4" y="2058.0" width="11.8" height="334.0" fill="#ef8f2c" stroke="#8c5418" stroke-width="2.2"/>
<rect x="2043.3" y="2153.6" width="11.8" height="238.4" fill="#e87272" stroke="#984444" stroke-width="2.2"/>
<rect x="2061.2" y="2231.7" width="11.8" height="160.3" fill="#2c7fdf" stroke="#1a4890" stroke-width="2.2"/>
<rect x="2090.0" y="2095.7" width="11.8" height="296.3" fill="#d41a1a" stroke="#7a1010" stroke-width="2.2"/>
<rect x="2107.9" y="2118.0" width="11.8" height="274.0" fill="#ef8f2c" stroke="#8c5418" stroke-width="2.2"/>
<rect x="2125.8" y="2206.8" width="11.8" height="185.2" fill="#e87272" stroke="#984444" stroke-width="2.2"/>
<rect x="2143.7" y="2242.0" width="11.8" height="150.0" fill="#2c7fdf" stroke="#1a4890" stroke-width="2.2"/>
<rect x="2172.4" y="2110.3" width="11.8" height="281.7" fill="#d41a1a" stroke="#7a1010" stroke-width="2.2"/>
<rect x="2190.3" y="2126.2" width="11.8" height="265.8" fill="#ef8f2c" stroke="#8c5418" stroke-width="2.2"/>
<rect x="2208.2" y="2280.2" width="11.8" height="111.8" fill="#e87272" stroke="#984444" stroke-width="2.2"/>
<rect x="2226.1" y="2290.5" width="11.8" height="101.5" fill="#2c7fdf" stroke="#1a4890" stroke-width="2.2"/>
<rect x="2254.9" y="2086.7" width="11.8" height="305.3" fill="#d41a1a" stroke="#7a1010" stroke-width="2.2"/>
<rect x="2272.8" y="2162.2" width="11.8" height="229.8" fill="#ef8f2c" stroke="#8c5418" stroke-width="2.2"/>
<rect x="2290.7" y="2320.9" width="11.8" height="71.1" fill="#e87272" stroke="#984444" stroke-width="2.2"/>
<rect x="2308.6" y="2302.9" width="11.8" height="89.1" fill="#2c7fdf" stroke="#1a4890" stroke-width="2.2"/>
<rect x="2337.4" y="2148.0" width="11.8" height="244.0" fill="#d41a1a" stroke="#7a1010" stroke-width="2.2"/>
<rect x="2355.3" y="2217.5" width="11.8" height="174.5" fill="#ef8f2c" stroke="#8c5418" stroke-width="2.2"/>
<rect x="2373.2" y="2358.7" width="11.8" height="33.3" fill="#e87272" stroke="#984444" stroke-width="2.2"/>
<rect x="2391.1" y="2362.1" width="11.8" height="29.9" fill="#2c7fdf" stroke="#1a4890" stroke-width="2.2"/>
<line x1="1423" y1="2178.8" x2="2418" y2="2178.8" stroke="#000" stroke-width="5" stroke-dasharray="12.5 9.2" opacity="0.6"/>
<path d="M1409,1965.5 H1423 V2392 H2418" fill="none" stroke="#000" stroke-width="6" stroke-linejoin="miter"/>
<line x1="1409" y1="2392.0" x2="1423" y2="2392.0" stroke="#000" stroke-width="6"/>
<text x="1360.8" y="2403.8" font-size="33.84" text-anchor="start" font-weight="bold" fill="#222" textLength="43.3" lengthAdjust="spacingAndGlyphs">0.0</text>
<line x1="1409" y1="2306.7" x2="1423" y2="2306.7" stroke="#000" stroke-width="6"/>
<text x="1360.8" y="2318.5" font-size="33.84" text-anchor="start" font-weight="bold" fill="#222" textLength="43.2" lengthAdjust="spacingAndGlyphs">0.2</text>
<line x1="1409" y1="2221.4" x2="1423" y2="2221.4" stroke="#000" stroke-width="6"/>
<text x="1360.8" y="2233.2" font-size="33.84" text-anchor="start" font-weight="bold" fill="#222" textLength="42.2" lengthAdjust="spacingAndGlyphs">0.4</text>
<line x1="1409" y1="2136.1" x2="1423" y2="2136.1" stroke="#000" stroke-width="6"/>
<text x="1360.8" y="2147.9" font-size="33.84" text-anchor="start" font-weight="bold" fill="#222" textLength="43.1" lengthAdjust="spacingAndGlyphs">0.6</text>
<line x1="1409" y1="2050.8" x2="1423" y2="2050.8" stroke="#000" stroke-width="6"/>
<text x="1360.8" y="2062.6" font-size="33.84" text-anchor="start" font-weight="bold" fill="#222" textLength="43.0" lengthAdjust="spacingAndGlyphs">0.8</text>
<line x1="1409" y1="1965.5" x2="1423" y2="1965.5" stroke="#000" stroke-width="6"/>
<text x="1360.0" y="1977.3" font-size="33.84" text-anchor="start" font-weight="bold" fill="#222" textLength="44.1" lengthAdjust="spacingAndGlyphs">1.0</text>
<line x1="1462.3" y1="2392" x2="1462.3" y2="2406" stroke="#000" stroke-width="6"/>
<text x="1473.3" y="2434.0" font-size="33.5" text-anchor="end" fill="#222" transform="rotate(-45 1473.3 2434.0)" stroke="#222" stroke-width="0.8">K331</text>
<line x1="1544.8" y1="2392" x2="1544.8" y2="2406" stroke="#000" stroke-width="6"/>
<text x="1555.8" y="2434.0" font-size="33.5" text-anchor="end" fill="#222" transform="rotate(-45 1555.8 2434.0)" stroke="#222" stroke-width="0.8">K335</text>
<line x1="1627.2" y1="2392" x2="1627.2" y2="2406" stroke="#000" stroke-width="6"/>
<text x="1638.2" y="2434.0" font-size="33.5" text-anchor="end" fill="#222" transform="rotate(-45 1638.2 2434.0)" stroke="#222" stroke-width="0.8">K336</text>
<line x1="1709.7" y1="2392" x2="1709.7" y2="2406" stroke="#000" stroke-width="6"/>
<text x="1720.7" y="2434.0" font-size="33.5" text-anchor="end" fill="#222" transform="rotate(-45 1720.7 2434.0)" stroke="#222" stroke-width="0.8">K339</text>
<line x1="1792.1" y1="2392" x2="1792.1" y2="2406" stroke="#000" stroke-width="6"/>
<text x="1803.1" y="2434.0" font-size="33.5" text-anchor="end" fill="#222" transform="rotate(-45 1803.1 2434.0)" stroke="#222" stroke-width="0.8">K340</text>
<line x1="1874.6" y1="2392" x2="1874.6" y2="2406" stroke="#000" stroke-width="6"/>
<text x="1885.6" y="2434.0" font-size="33.5" text-anchor="end" fill="#222" transform="rotate(-45 1885.6 2434.0)" stroke="#222" stroke-width="0.8">K341</text>
<line x1="1957.1" y1="2392" x2="1957.1" y2="2406" stroke="#000" stroke-width="6"/>
<text x="1968.1" y="2434.0" font-size="33.5" text-anchor="end" fill="#222" transform="rotate(-45 1968.1 2434.0)" stroke="#222" stroke-width="0.8">K346</text>
<line x1="2039.5" y1="2392" x2="2039.5" y2="2406" stroke="#000" stroke-width="6"/>
<text x="2050.5" y="2434.0" font-size="33.5" text-anchor="end" fill="#222" transform="rotate(-45 2050.5 2434.0)" stroke="#222" stroke-width="0.8">K351</text>
<line x1="2122.0" y1="2392" x2="2122.0" y2="2406" stroke="#000" stroke-width="6"/>
<text x="2133.0" y="2434.0" font-size="33.5" text-anchor="end" fill="#222" transform="rotate(-45 2133.0 2434.0)" stroke="#222" stroke-width="0.8">K353</text>
<line x1="2204.4" y1="2392" x2="2204.4" y2="2406" stroke="#000" stroke-width="6"/>
<text x="2215.4" y="2434.0" font-size="33.5" text-anchor="end" fill="#222" transform="rotate(-45 2215.4 2434.0)" stroke="#222" stroke-width="0.8">K355</text>
<line x1="2286.9" y1="2392" x2="2286.9" y2="2406" stroke="#000" stroke-width="6"/>
<text x="2297.9" y="2434.0" font-size="33.5" text-anchor="end" fill="#222" transform="rotate(-45 2297.9 2434.0)" stroke="#222" stroke-width="0.8">K357</text>
<line x1="2369.4" y1="2392" x2="2369.4" y2="2406" stroke="#000" stroke-width="6"/>
<text x="2380.4" y="2434.0" font-size="33.5" text-anchor="end" fill="#222" transform="rotate(-45 2380.4 2434.0)" stroke="#222" stroke-width="0.8">K359</text>
<rect x="2289.3" y="1982.3" width="49.3" height="14.5" fill="#d41a1a" stroke="#7a1010" stroke-width="2.2"/>
<text x="2361.7" y="2001.6" font-size="29.53" text-anchor="start" fill="#666" textLength="75.1" lengthAdjust="spacingAndGlyphs">Kme0</text>
<rect x="2289.3" y="2007.8" width="49.3" height="14.5" fill="#ef8f2c" stroke="#8c5418" stroke-width="2.2"/>
<text x="2361.7" y="2027.1" font-size="29.53" text-anchor="start" fill="#666" textLength="75.4" lengthAdjust="spacingAndGlyphs">Kme1</text>
<rect x="2289.3" y="2034.0" width="49.3" height="14.5" fill="#e87272" stroke="#984444" stroke-width="2.2"/>
<text x="2361.7" y="2053.3" font-size="29.53" text-anchor="start" fill="#666" textLength="75.5" lengthAdjust="spacingAndGlyphs">Kme2</text>
<rect x="2289.3" y="2059.7" width="49.3" height="14.5" fill="#2c7fdf" stroke="#1a4890" stroke-width="2.2"/>
<text x="2361.7" y="2079.0" font-size="29.53" text-anchor="start" fill="#666" textLength="75.3" lengthAdjust="spacingAndGlyphs">Kme3</text>
<text x="1271.6" y="1953.2" font-size="53.91" text-anchor="start" textLength="75.5" lengthAdjust="spacingAndGlyphs">(C)</text>
<text x="1343.9" y="2303.4" font-size="36.83" text-anchor="start" fill="#1a1a1a" textLength="258.7" lengthAdjust="spacingAndGlyphs" transform="rotate(-90 1343.9 2303.4)" stroke="#1a1a1a" stroke-width="1.1">Relative binding</text>
<line x1="193.1" y1="2801.2" x2="1190.8" y2="2801.2" stroke="#000" stroke-width="5" stroke-dasharray="12.5 9.2"/>
<rect x="201.6" y="2889.5" width="12.0" height="124.8" fill="#d41a1a" stroke="#7a1010" stroke-width="2.2"/>
<rect x="219.8" y="2978.6" width="12.0" height="35.7" fill="#ef8f2c" stroke="#8c5418" stroke-width="2.2"/>
<rect x="238.0" y="2953.8" width="12.0" height="60.5" fill="#e87272" stroke="#984444" stroke-width="2.2"/>
<rect x="256.2" y="2896.8" width="12.0" height="117.5" fill="#2c7fdf" stroke="#1a4890" stroke-width="2.2"/>
<rect x="284.1" y="2785.8" width="12.0" height="228.5" fill="#d41a1a" stroke="#7a1010" stroke-width="2.2"/>
<rect x="302.3" y="2886.1" width="12.0" height="128.2" fill="#ef8f2c" stroke="#8c5418" stroke-width="2.2"/>
<rect x="320.5" y="2926.8" width="12.0" height="87.5" fill="#e87272" stroke="#984444" stroke-width="2.2"/>
<rect x="338.8" y="2916.1" width="12.0" height="98.2" fill="#2c7fdf" stroke="#1a4890" stroke-width="2.2"/>
<rect x="366.7" y="2875.8" width="12.0" height="138.5" fill="#d41a1a" stroke="#7a1010" stroke-width="2.2"/>
<rect x="384.9" y="2947.8" width="12.0" height="66.5" fill="#ef8f2c" stroke="#8c5418" stroke-width="2.2"/>
<rect x="403.1" y="2938.8" width="12.0" height="75.5" fill="#e87272" stroke="#984444" stroke-width="2.2"/>
<rect x="421.3" y="2940.9" width="12.0" height="73.4" fill="#2c7fdf" stroke="#1a4890" stroke-width="2.2"/>
<rect x="449.2" y="2875.8" width="12.0" height="138.5" fill="#d41a1a" stroke="#7a1010" stroke-width="2.2"/>
<rect x="467.4" y="2921.2" width="12.0" height="93.1" fill="#ef8f2c" stroke="#8c5418" stroke-width="2.2"/>
<rect x="485.6" y="2920.4" width="12.0" height="93.9" fill="#e87272" stroke="#984444" stroke-width="2.2"/>
<rect x="503.9" y="2966.2" width="12.0" height="48.1" fill="#2c7fdf" stroke="#1a4890" stroke-width="2.2"/>
<rect x="531.8" y="2823.5" width="12.0" height="190.8" fill="#d41a1a" stroke="#7a1010" stroke-width="2.2"/>
<rect x="550.0" y="2909.2" width="12.0" height="105.1" fill="#ef8f2c" stroke="#8c5418" stroke-width="2.2"/>
<rect x="568.2" y="2892.1" width="12.0" height="122.2" fill="#e87272" stroke="#984444" stroke-width="2.2"/>
<rect x="586.4" y="2940.9" width="12.0" height="73.4" fill="#2c7fdf" stroke="#1a4890" stroke-width="2.2"/>
<rect x="614.4" y="2865.5" width="12.0" height="148.8" fill="#d41a1a" stroke="#7a1010" stroke-width="2.2"/>
<rect x="632.6" y="2844.1" width="12.0" height="170.2" fill="#ef8f2c" stroke="#8c5418" stroke-width="2.2"/>
<rect x="650.8" y="2903.2" width="12.0" height="111.1" fill="#e87272" stroke="#984444" stroke-width="2.2"/>
<rect x="669.0" y="2916.1" width="12.0" height="98.2" fill="#2c7fdf" stroke="#1a4890" stroke-width="2.2"/>
<rect x="696.9" y="2807.2" width="12.0" height="207.1" fill="#d41a1a" stroke="#7a1010" stroke-width="2.2"/>
<rect x="715.1" y="2792.3" width="12.0" height="222.0" fill="#ef8f2c" stroke="#8c5418" stroke-width="2.2"/>
<rect x="733.3" y="2758.4" width="12.0" height="255.9" fill="#e87272" stroke="#984444" stroke-width="2.2"/>
<rect x="751.5" y="2917.8" width="12.0" height="96.5" fill="#2c7fdf" stroke="#1a4890" stroke-width="2.2"/>
<rect x="779.5" y="2861.2" width="12.0" height="153.1" fill="#d41a1a" stroke="#7a1010" stroke-width="2.2"/>
<rect x="797.7" y="2851.4" width="12.0" height="162.9" fill="#ef8f2c" stroke="#8c5418" stroke-width="2.2"/>
<rect x="815.9" y="2937.5" width="12.0" height="76.8" fill="#e87272" stroke="#984444" stroke-width="2.2"/>
<rect x="834.1" y="2992.8" width="12.0" height="21.5" fill="#2c7fdf" stroke="#1a4890" stroke-width="2.2"/>
<rect x="862.0" y="2867.7" width="12.0" height="146.6" fill="#d41a1a" stroke="#7a1010" stroke-width="2.2"/>
<rect x="880.2" y="2811.1" width="12.0" height="203.2" fill="#ef8f2c" stroke="#8c5418" stroke-width="2.2"/>
<rect x="898.4" y="2876.2" width="12.0" height="138.1" fill="#e87272" stroke="#984444" stroke-width="2.2"/>
<rect x="916.6" y="2938.8" width="12.0" height="75.5" fill="#2c7fdf" stroke="#1a4890" stroke-width="2.2"/>
<rect x="944.5" y="2878.0" width="12.0" height="136.3" fill="#d41a1a" stroke="#7a1010" stroke-width="2.2"/>
<rect x="962.8" y="2878.0" width="12.0" height="136.3" fill="#ef8f2c" stroke="#8c5418" stroke-width="2.2"/>
<rect x="980.9" y="2931.1" width="12.0" height="83.2" fill="#e87272" stroke="#984444" stroke-width="2.2"/>
<rect x="999.1" y="2968.8" width="12.0" height="45.5" fill="#2c7fdf" stroke="#1a4890" stroke-width="2.2"/>
<rect x="1027.1" y="2889.1" width="12.0" height="125.2" fill="#d41a1a" stroke="#7a1010" stroke-width="2.2"/>
<rect x="1045.3" y="2880.1" width="12.0" height="134.2" fill="#ef8f2c" stroke="#8c5418" stroke-width="2.2"/>
<rect x="1063.5" y="2945.2" width="12.0" height="69.1" fill="#e87272" stroke="#984444" stroke-width="2.2"/>
<rect x="1081.7" y="2962.8" width="12.0" height="51.5" fill="#2c7fdf" stroke="#1a4890" stroke-width="2.2"/>
<rect x="1109.6" y="2918.7" width="12.0" height="95.6" fill="#d41a1a" stroke="#7a1010" stroke-width="2.2"/>
<rect x="1127.8" y="2905.4" width="12.0" height="108.9" fill="#ef8f2c" stroke="#8c5418" stroke-width="2.2"/>
<rect x="1146.0" y="2952.5" width="12.0" height="61.8" fill="#e87272" stroke="#984444" stroke-width="2.2"/>
<rect x="1164.2" y="2975.2" width="12.0" height="39.1" fill="#2c7fdf" stroke="#1a4890" stroke-width="2.2"/>
<line x1="193.1" y1="2801.2" x2="1190.8" y2="2801.2" stroke="#000" stroke-width="5" stroke-dasharray="12.5 9.2" opacity="0.6"/>
<path d="M179.1,2588.0 H193.1 V3014.3 H1190.8" fill="none" stroke="#000" stroke-width="6" stroke-linejoin="miter"/>
<line x1="179.1" y1="3014.3" x2="193.1" y2="3014.3" stroke="#000" stroke-width="6"/>
<text x="130.8" y="3026.1" font-size="33.84" text-anchor="start" font-weight="bold" fill="#222" textLength="46.5" lengthAdjust="spacingAndGlyphs">0.0</text>
<line x1="179.1" y1="2929.0" x2="193.1" y2="2929.0" stroke="#000" stroke-width="6"/>
<text x="130.8" y="2940.8" font-size="33.84" text-anchor="start" font-weight="bold" fill="#222" textLength="46.4" lengthAdjust="spacingAndGlyphs">0.2</text>
<line x1="179.1" y1="2843.8" x2="193.1" y2="2843.8" stroke="#000" stroke-width="6"/>
<text x="130.8" y="2855.6" font-size="33.84" text-anchor="start" font-weight="bold" fill="#222" textLength="45.3" lengthAdjust="spacingAndGlyphs">0.4</text>
<line x1="179.1" y1="2758.5" x2="193.1" y2="2758.5" stroke="#000" stroke-width="6"/>
<text x="130.8" y="2770.3" font-size="33.84" text-anchor="start" font-weight="bold" fill="#222" textLength="46.3" lengthAdjust="spacingAndGlyphs">0.6</text>
<line x1="179.1" y1="2673.3" x2="193.1" y2="2673.3" stroke="#000" stroke-width="6"/>
<text x="130.8" y="2685.1" font-size="33.84" text-anchor="start" font-weight="bold" fill="#222" textLength="46.1" lengthAdjust="spacingAndGlyphs">0.8</text>
<line x1="179.1" y1="2588.0" x2="193.1" y2="2588.0" stroke="#000" stroke-width="6"/>
<text x="130.0" y="2599.8" font-size="33.84" text-anchor="start" font-weight="bold" fill="#222" textLength="47.3" lengthAdjust="spacingAndGlyphs">1.0</text>
<line x1="234.6" y1="3014.3" x2="234.6" y2="3028.3" stroke="#000" stroke-width="6"/>
<text x="245.6" y="3056.3" font-size="33.5" text-anchor="end" fill="#222" transform="rotate(-45 245.6 3056.3)" stroke="#222" stroke-width="0.8">K331</text>
<line x1="317.1" y1="3014.3" x2="317.1" y2="3028.3" stroke="#000" stroke-width="6"/>
<text x="328.1" y="3056.3" font-size="33.5" text-anchor="end" fill="#222" transform="rotate(-45 328.1 3056.3)" stroke="#222" stroke-width="0.8">K335</text>
<line x1="399.7" y1="3014.3" x2="399.7" y2="3028.3" stroke="#000" stroke-width="6"/>
<text x="410.7" y="3056.3" font-size="33.5" text-anchor="end" fill="#222" transform="rotate(-45 410.7 3056.3)" stroke="#222" stroke-width="0.8">K336</text>
<line x1="482.2" y1="3014.3" x2="482.2" y2="3028.3" stroke="#000" stroke-width="6"/>
<text x="493.2" y="3056.3" font-size="33.5" text-anchor="end" fill="#222" transform="rotate(-45 493.2 3056.3)" stroke="#222" stroke-width="0.8">K339</text>
<line x1="564.8" y1="3014.3" x2="564.8" y2="3028.3" stroke="#000" stroke-width="6"/>
<text x="575.8" y="3056.3" font-size="33.5" text-anchor="end" fill="#222" transform="rotate(-45 575.8 3056.3)" stroke="#222" stroke-width="0.8">K340</text>
<line x1="647.4" y1="3014.3" x2="647.4" y2="3028.3" stroke="#000" stroke-width="6"/>
<text x="658.4" y="3056.3" font-size="33.5" text-anchor="end" fill="#222" transform="rotate(-45 658.4 3056.3)" stroke="#222" stroke-width="0.8">K341</text>
<line x1="729.9" y1="3014.3" x2="729.9" y2="3028.3" stroke="#000" stroke-width="6"/>
<text x="740.9" y="3056.3" font-size="33.5" text-anchor="end" fill="#222" transform="rotate(-45 740.9 3056.3)" stroke="#222" stroke-width="0.8">K346</text>
<line x1="812.5" y1="3014.3" x2="812.5" y2="3028.3" stroke="#000" stroke-width="6"/>
<text x="823.5" y="3056.3" font-size="33.5" text-anchor="end" fill="#222" transform="rotate(-45 823.5 3056.3)" stroke="#222" stroke-width="0.8">K351</text>
<line x1="895.0" y1="3014.3" x2="895.0" y2="3028.3" stroke="#000" stroke-width="6"/>
<text x="906.0" y="3056.3" font-size="33.5" text-anchor="end" fill="#222" transform="rotate(-45 906.0 3056.3)" stroke="#222" stroke-width="0.8">K353</text>
<line x1="977.5" y1="3014.3" x2="977.5" y2="3028.3" stroke="#000" stroke-width="6"/>
<text x="988.5" y="3056.3" font-size="33.5" text-anchor="end" fill="#222" transform="rotate(-45 988.5 3056.3)" stroke="#222" stroke-width="0.8">K355</text>
<line x1="1060.1" y1="3014.3" x2="1060.1" y2="3028.3" stroke="#000" stroke-width="6"/>
<text x="1071.1" y="3056.3" font-size="33.5" text-anchor="end" fill="#222" transform="rotate(-45 1071.1 3056.3)" stroke="#222" stroke-width="0.8">K357</text>
<line x1="1142.6" y1="3014.3" x2="1142.6" y2="3028.3" stroke="#000" stroke-width="6"/>
<text x="1153.6" y="3056.3" font-size="33.5" text-anchor="end" fill="#222" transform="rotate(-45 1153.6 3056.3)" stroke="#222" stroke-width="0.8">K359</text>
<rect x="1065.9" y="2605.4" width="48.5" height="14" fill="#d41a1a" stroke="#7a1010" stroke-width="2.2"/>
<text x="1135.7" y="2623.0" font-size="28.22" text-anchor="start" fill="#666" textLength="76.1" lengthAdjust="spacingAndGlyphs">Kme0</text>
<rect x="1065.9" y="2631.5" width="48.5" height="14" fill="#ef8f2c" stroke="#8c5418" stroke-width="2.2"/>
<text x="1135.7" y="2649.1" font-size="28.22" text-anchor="start" fill="#666" textLength="76.4" lengthAdjust="spacingAndGlyphs">Kme1</text>
<rect x="1065.9" y="2657.6" width="48.5" height="14" fill="#e87272" stroke="#984444" stroke-width="2.2"/>
<text x="1135.7" y="2675.2" font-size="28.22" text-anchor="start" fill="#666" textLength="76.4" lengthAdjust="spacingAndGlyphs">Kme2</text>
<rect x="1065.9" y="2683.8" width="48.5" height="14" fill="#2c7fdf" stroke="#1a4890" stroke-width="2.2"/>
<text x="1135.7" y="2701.4" font-size="28.22" text-anchor="start" fill="#666" textLength="76.2" lengthAdjust="spacingAndGlyphs">Kme3</text>
<text x="14.4" y="2557.8" font-size="54.69" text-anchor="start" textLength="78.5" lengthAdjust="spacingAndGlyphs">(D)</text>
<text x="114.6" y="2924.0" font-size="33.52" text-anchor="start" fill="#1a1a1a" textLength="256.9" lengthAdjust="spacingAndGlyphs" transform="rotate(-90 114.6 2924.0)" stroke="#1a1a1a" stroke-width="1.1">Relative binding</text>
<rect x="1437.0" y="2607.0" width="26.0" height="414.9" fill="#ff0a0a" stroke="#9a0000" stroke-width="2.2"/>
<rect x="1474.0" y="2782.5" width="26.0" height="239.4" fill="#ff8c10" stroke="#8c5010" stroke-width="2.2"/>
<rect x="1511.0" y="2851.5" width="26.0" height="170.4" fill="#f06c6c" stroke="#984040" stroke-width="2.2"/>
<rect x="1548.0" y="2945.5" width="26.0" height="76.4" fill="#1e80ff" stroke="#104090" stroke-width="2.2"/>
<rect x="1609.1" y="2607.8" width="26.0" height="414.1" fill="#ff0a0a" stroke="#9a0000" stroke-width="2.2"/>
<rect x="1646.1" y="2654.4" width="26.0" height="367.5" fill="#ff8c10" stroke="#8c5010" stroke-width="2.2"/>
<rect x="1683.1" y="2848.6" width="26.0" height="173.3" fill="#f06c6c" stroke="#984040" stroke-width="2.2"/>
<rect x="1720.1" y="2925.2" width="26.0" height="96.7" fill="#1e80ff" stroke="#104090" stroke-width="2.2"/>
<rect x="1781.2" y="2693.5" width="26.0" height="328.4" fill="#ff0a0a" stroke="#9a0000" stroke-width="2.2"/>
<rect x="1818.2" y="2816.2" width="26.0" height="205.7" fill="#ff8c10" stroke="#8c5010" stroke-width="2.2"/>
<rect x="1855.2" y="2837.8" width="26.0" height="184.1" fill="#f06c6c" stroke="#984040" stroke-width="2.2"/>
<rect x="1892.2" y="2963.0" width="26.0" height="58.9" fill="#1e80ff" stroke="#104090" stroke-width="2.2"/>
<path d="M1406,2606.0 H1420 V3021.9 H1937.3" fill="none" stroke="#000" stroke-width="5.5" stroke-linejoin="miter"/>
<line x1="1406" y1="3021.9" x2="1420" y2="3021.9" stroke="#000" stroke-width="5.5"/>
<text x="1363.9" y="3033.9" font-size="34.41" text-anchor="start" fill="#222" textLength="39.9" lengthAdjust="spacingAndGlyphs">0.0</text>
<line x1="1406" y1="2938.7" x2="1420" y2="2938.7" stroke="#000" stroke-width="5.5"/>
<text x="1363.8" y="2950.7" font-size="34.41" text-anchor="start" fill="#222" textLength="40.3" lengthAdjust="spacingAndGlyphs">0.2</text>
<line x1="1406" y1="2855.5" x2="1420" y2="2855.5" stroke="#000" stroke-width="5.5"/>
<text x="1363.9" y="2867.5" font-size="34.41" text-anchor="start" fill="#222" textLength="39.6" lengthAdjust="spacingAndGlyphs">0.4</text>
<line x1="1406" y1="2772.4" x2="1420" y2="2772.4" stroke="#000" stroke-width="5.5"/>
<text x="1363.8" y="2784.4" font-size="34.41" text-anchor="start" fill="#222" textLength="40.1" lengthAdjust="spacingAndGlyphs">0.6</text>
<line x1="1406" y1="2689.2" x2="1420" y2="2689.2" stroke="#000" stroke-width="5.5"/>
<text x="1363.8" y="2701.2" font-size="34.41" text-anchor="start" fill="#222" textLength="40.1" lengthAdjust="spacingAndGlyphs">0.8</text>
<line x1="1406" y1="2606.0" x2="1420" y2="2606.0" stroke="#000" stroke-width="5.5"/>
<text x="1362.8" y="2618.0" font-size="34.41" text-anchor="start" fill="#222" textLength="41.0" lengthAdjust="spacingAndGlyphs">1.0</text>
<line x1="1505.5" y1="3021.9" x2="1505.5" y2="3035.9" stroke="#000" stroke-width="5.5"/>
<text x="1452.0" y="3068.7" font-size="35.93" text-anchor="start" font-weight="bold" fill="#1a1a1a" textLength="104.4" lengthAdjust="spacingAndGlyphs">PHD1-3</text>
<line x1="1677.6" y1="3021.9" x2="1677.6" y2="3035.9" stroke="#000" stroke-width="5.5"/>
<text x="1624.0" y="3068.7" font-size="35.93" text-anchor="start" font-weight="bold" fill="#1a1a1a" textLength="105.4" lengthAdjust="spacingAndGlyphs">PHD4-6</text>
<line x1="1849.7" y1="3021.9" x2="1849.7" y2="3035.9" stroke="#000" stroke-width="5.5"/>
<text x="1810.0" y="3068.7" font-size="35.93" text-anchor="start" font-weight="bold" fill="#1a1a1a" textLength="77.6" lengthAdjust="spacingAndGlyphs">PHD7</text>
<rect x="1895.2" y="2603.4" width="38.4" height="12.5" fill="#ff0a0a" stroke="#9a0000" stroke-width="2.2"/>
<text x="1954.1" y="2617.4" font-size="23.27" text-anchor="start" fill="#666" textLength="65.0" lengthAdjust="spacingAndGlyphs">Kme0</text>
<rect x="1895.2" y="2628.3" width="38.4" height="12.5" fill="#ff8c10" stroke="#8c5010" stroke-width="2.2"/>
<text x="1954.1" y="2642.3" font-size="23.27" text-anchor="start" fill="#666" textLength="65.3" lengthAdjust="spacingAndGlyphs">Kme1</text>
<rect x="1895.2" y="2653.2" width="38.4" height="12.5" fill="#f06c6c" stroke="#984040" stroke-width="2.2"/>
<text x="1954.1" y="2667.2" font-size="23.27" text-anchor="start" fill="#666" textLength="65.4" lengthAdjust="spacingAndGlyphs">Kme2</text>
<rect x="1895.2" y="2678.1" width="38.4" height="12.5" fill="#1e80ff" stroke="#104090" stroke-width="2.2"/>
<text x="1954.1" y="2692.1" font-size="23.27" text-anchor="start" fill="#666" textLength="65.2" lengthAdjust="spacingAndGlyphs">Kme3</text>
<text x="1255.9" y="2561.7" font-size="59.05" text-anchor="start" textLength="66.8" lengthAdjust="spacingAndGlyphs">(E)</text>
<text x="1344.0" y="2937.4" font-size="32.0" text-anchor="start" fill="#1a1a1a" textLength="252.9" lengthAdjust="spacingAndGlyphs" transform="rotate(-90 1344.0 2937.4)" stroke="#1a1a1a" stroke-width="1.1">Relative binding</text>
</g>
<g filter="url(#soft)">
<text x="13.3" y="3274.0" font-size="69.38" text-anchor="start" textLength="79.5" lengthAdjust="spacingAndGlyphs">(F)</text>
<text x="1259.1" y="3242.8" font-size="49.75" text-anchor="start" font-weight="bold" fill="#1a1a1a" textLength="250.2" lengthAdjust="spacingAndGlyphs">NaCl (mM)</text>
<text x="462.6" y="3326.0" font-size="51.35" text-anchor="start" fill="#2a2a2a" textLength="116.9" lengthAdjust="spacingAndGlyphs">Input</text>
<text x="836.3" y="3325.5" font-size="49.75" text-anchor="start" fill="#2a2a2a" textLength="52.6" lengthAdjust="spacingAndGlyphs">FT</text>
<text x="1007.2" y="3326.3" font-size="46.69" text-anchor="start" fill="#2a2a2a" textLength="79.6" lengthAdjust="spacingAndGlyphs">&#916;50</text>
<text x="1163.8" y="3326.6" font-size="46.98" text-anchor="start" fill="#2a2a2a" textLength="79.6" lengthAdjust="spacingAndGlyphs">&#916;75</text>
<text x="1315.8" y="3322.8" font-size="46.98" text-anchor="start" fill="#2a2a2a" textLength="103.9" lengthAdjust="spacingAndGlyphs">&#916;100</text>
<text x="1495.3" y="3326.6" font-size="46.31" text-anchor="start" fill="#2a2a2a" textLength="105.0" lengthAdjust="spacingAndGlyphs">&#916;200</text>
<text x="1686.2" y="3326.6" font-size="46.31" text-anchor="start" fill="#2a2a2a" textLength="104.4" lengthAdjust="spacingAndGlyphs">&#916;350</text>
<text x="1882.6" y="3323.9" font-size="45.53" text-anchor="start" fill="#2a2a2a" textLength="49.6" lengthAdjust="spacingAndGlyphs">LB</text>
<text x="160.0" y="3395.5" font-size="45.16" text-anchor="start" fill="#2a2a2a" textLength="54.6" lengthAdjust="spacingAndGlyphs">50</text>
<text x="161.1" y="3626.4" font-size="46.45" text-anchor="start" fill="#2a2a2a" textLength="55.2" lengthAdjust="spacingAndGlyphs">37</text>
<text x="160.8" y="3805.0" font-size="44.01" text-anchor="start" fill="#2a2a2a" textLength="53.4" lengthAdjust="spacingAndGlyphs">50</text>
<text x="160.8" y="4000.8" font-size="47.46" text-anchor="start" fill="#2a2a2a" textLength="56.5" lengthAdjust="spacingAndGlyphs">37</text>
<text x="120.5" y="3619.2" font-size="52.33" text-anchor="start" font-weight="bold" textLength="218.5" lengthAdjust="spacingAndGlyphs" transform="rotate(-90 120.5 3619.2)">CFP1me0</text>
<text x="122.6" y="3969.6" font-size="54.05" text-anchor="start" font-weight="bold" textLength="185.1" lengthAdjust="spacingAndGlyphs" transform="rotate(-90 122.6 3969.6)">CFP1me</text>
<defs>
<filter id="blur1" x="-50%" y="-50%" width="200%" height="200%"><feGaussianBlur stdDeviation="1.2"/></filter>
<filter id="blur3" x="-20%" y="-50%" width="140%" height="200%"><feGaussianBlur stdDeviation="3"/></filter>
<filter id="blur5" x="-20%" y="-50%" width="140%" height="200%"><feGaussianBlur stdDeviation="5"/></filter>
<filter id="blur8" x="-30%" y="-60%" width="160%" height="220%"><feGaussianBlur stdDeviation="8"/></filter>
<filter id="blur14" x="-40%" y="-60%" width="180%" height="220%"><feGaussianBlur stdDeviation="14"/></filter>
<filter id="blur25" x="-50%" y="-50%" width="200%" height="200%"><feGaussianBlur stdDeviation="25"/></filter>
<filter id="noise" x="0" y="0" width="100%" height="100%">
  <feTurbulence type="fractalNoise" baseFrequency="0.16" numOctaves="2" seed="7" result="t"/>
  <feColorMatrix in="t" type="matrix" values="0 0 0 0 0.42  0 0 0 0 0.42  0 0 0 0 0.42  0 0 0 -2.2 1.25" result="n"/>
  <feComposite in="n" in2="SourceGraphic" operator="in"/>
</filter>
<clipPath id="g1"><rect x="253" y="3355.5" width="1740.5" height="325"/></clipPath>
<clipPath id="g2"><rect x="255" y="3726.5" width="1744.5" height="323.5"/></clipPath>
</defs>
<rect x="250.5" y="3353" width="1745.5" height="329.5" fill="#c9c9c9"/>
<g clip-path="url(#g1)">
<rect x="255" y="3358" width="180" height="322" fill="#c3c3c3" filter="url(#blur14)"/>
<path d="M1230,3360 L1290,3360 L1340,3680 L1280,3680 Z" fill="#bfbfbf" filter="url(#blur14)"/>
<path d="M1680,3360 L1720,3360 L1770,3680 L1730,3680 Z" fill="#c1c1c1" filter="url(#blur14)"/>
<ellipse cx="1100" cy="3600" rx="120" ry="60" fill="#c4c4c4" filter="url(#blur25)"/>
<rect x="1968" y="3360" width="24" height="318" fill="#dadada" filter="url(#blur5)"/>
<rect x="468" y="3362" width="116" height="316" fill="#c0c0c0" filter="url(#blur8)"/>
<rect x="800" y="3370" width="120" height="308" fill="#c1c1c1" filter="url(#blur8)"/>
<rect x="1844" y="3362" width="124" height="316" fill="#b9b9b9" filter="url(#blur8)"/>
<rect x="470" y="3548" width="112" height="22" fill="#acacac" filter="url(#blur8)"/>
<rect x="470" y="3598" width="112" height="26" fill="#aaaaaa" filter="url(#blur8)"/>
<rect x="470" y="3628" width="112" height="30" fill="#b8b8b8" filter="url(#blur8)"/>
<rect x="470" y="3370" width="70" height="14" fill="#afafaf" filter="url(#blur5)"/>
<rect x="803" y="3558" width="112" height="24" fill="#b4b4b4" filter="url(#blur8)"/>
<rect x="803" y="3610" width="112" height="24" fill="#b4b4b4" filter="url(#blur8)"/>
<rect x="1848" y="3382" width="116" height="45" fill="#aeaeae" filter="url(#blur8)"/>
<rect x="1848" y="3548" width="118" height="105" fill="#a6a6a6" filter="url(#blur8)"/>
<rect x="1900" y="3565" width="60" height="45" fill="#9c9c9c" filter="url(#blur8)"/>
<rect x="250.5" y="3353" width="1745.5" height="329.5" fill="#fff" filter="url(#noise)" opacity="0.5"/>
<path d="M266,3388 Q265,3366 292,3366 L406,3370 Q430,3372 430,3396 L430,3410 Q430,3433 405,3433 L298,3426 Q266,3422 266,3402 Z" fill="#000" filter="url(#blur3)"/>
<path d="M262,3606 Q262,3586 286,3587 L398,3594 Q422,3596 422,3617 L422,3624 Q422,3646 398,3646 L292,3639 Q262,3636 262,3617 Z" fill="#000" filter="url(#blur3)"/>
<rect x="470" y="3385" width="112" height="20" fill="#8a8a8a" filter="url(#blur5)"/>
<circle cx="562" cy="3362" r="5" fill="#707070" filter="url(#blur3)"/>
<rect x="803" y="3398" width="112" height="20" fill="#6c6c6c" filter="url(#blur5)"/>
<circle cx="1068" cy="3578" r="3.3" fill="#707070" opacity="0.75" filter="url(#blur1)"/>
<circle cx="1020" cy="3558" r="2.8" fill="#707070" opacity="0.75" filter="url(#blur1)"/>
<circle cx="1041" cy="3565" r="3.3" fill="#707070" opacity="0.75" filter="url(#blur1)"/>
<circle cx="1296" cy="3490" r="3.3" fill="#707070" opacity="0.75" filter="url(#blur1)"/>
<circle cx="1493" cy="3541" r="3.3" fill="#707070" opacity="0.75" filter="url(#blur1)"/>
<circle cx="1596" cy="3527" r="3.3" fill="#707070" opacity="0.75" filter="url(#blur1)"/>
<circle cx="1640" cy="3534" r="2.8" fill="#707070" opacity="0.75" filter="url(#blur1)"/>
<circle cx="1613" cy="3575" r="2.8" fill="#707070" opacity="0.75" filter="url(#blur1)"/>
<circle cx="1691" cy="3612" r="3.3" fill="#707070" opacity="0.75" filter="url(#blur1)"/>
<circle cx="1585" cy="3408" r="2.8" fill="#707070" opacity="0.75" filter="url(#blur1)"/>
<circle cx="1899" cy="3571" r="3.8" fill="#707070" opacity="0.75" filter="url(#blur1)"/>
<circle cx="1950" cy="3405" r="3.8" fill="#707070" opacity="0.75" filter="url(#blur1)"/>
<circle cx="1871" cy="3401" r="3.3" fill="#707070" opacity="0.75" filter="url(#blur1)"/>
<circle cx="1844" cy="3452" r="2.8" fill="#707070" opacity="0.75" filter="url(#blur1)"/>
<circle cx="1739" cy="3677" r="3.8" fill="#707070" opacity="0.75" filter="url(#blur1)"/>
<circle cx="1773" cy="3677" r="3.8" fill="#707070" opacity="0.75" filter="url(#blur1)"/>
<circle cx="1521" cy="3650" r="2.8" fill="#707070" opacity="0.75" filter="url(#blur1)"/>
<circle cx="1378" cy="3452" r="2.8" fill="#707070" opacity="0.75" filter="url(#blur1)"/>
<circle cx="437" cy="3519" r="3.3" fill="#707070" opacity="0.75" filter="url(#blur1)"/>
<circle cx="483" cy="3575" r="3.3" fill="#707070" opacity="0.75" filter="url(#blur1)"/>
<circle cx="616" cy="3396" r="2.8" fill="#707070" opacity="0.75" filter="url(#blur1)"/>
<circle cx="772" cy="3486" r="3.3" fill="#707070" opacity="0.75" filter="url(#blur1)"/>
<circle cx="875" cy="3506" r="3.3" fill="#707070" opacity="0.75" filter="url(#blur1)"/>
<circle cx="964" cy="3509" r="2.8" fill="#707070" opacity="0.75" filter="url(#blur1)"/>
<circle cx="652" cy="3504" r="2.3" fill="#707070" opacity="0.75" filter="url(#blur1)"/>
<circle cx="706" cy="3622" r="2.8" fill="#707070" opacity="0.75" filter="url(#blur1)"/>
<circle cx="330" cy="3547" r="2.8" fill="#707070" opacity="0.75" filter="url(#blur1)"/>
<circle cx="1050" cy="3562" r="2.8" fill="#707070" opacity="0.75" filter="url(#blur1)"/>
<circle cx="1060" cy="3572" r="2.8" fill="#707070" opacity="0.75" filter="url(#blur1)"/>
</g>
<rect x="255.0" y="3357.5" width="1736.5" height="320.5" fill="none" stroke="#e2e2e2" stroke-width="3" opacity="0.7"/>
<rect x="250.5" y="3353" width="1745.5" height="329.5" fill="none" stroke="#5e5e5e" stroke-width="4"/>
<rect x="252.5" y="3724" width="1749.5" height="328.5" fill="#c9c9c9"/>
<g clip-path="url(#g2)">
<rect x="256" y="3728" width="180" height="322" fill="#c3c3c3" filter="url(#blur14)"/>
<ellipse cx="1510" cy="3810" rx="90" ry="60" fill="#c0c0c0" filter="url(#blur25)"/>
<ellipse cx="1150" cy="3850" rx="140" ry="90" fill="#c4c4c4" filter="url(#blur25)"/>
<rect x="1982" y="3730" width="16" height="318" fill="#d8d8d8" filter="url(#blur5)"/>
<rect x="458" y="3728" width="116" height="322" fill="#b6b6b6" filter="url(#blur5)"/>
<rect x="460" y="3728" width="112" height="60" fill="#9e9e9e" filter="url(#blur14)"/>
<rect x="460" y="3785" width="112" height="80" fill="#acacac" filter="url(#blur14)"/>
<rect x="462" y="3990" width="110" height="58" fill="#a6a6a6" filter="url(#blur14)"/>
<rect x="1842" y="3728" width="138" height="322" fill="#bdbdbd" filter="url(#blur8)"/>
<ellipse cx="1905" cy="3905" rx="62" ry="50" fill="#a8a8a8" filter="url(#blur14)"/>
<rect x="252.5" y="3724" width="1749.5" height="328.5" fill="#fff" filter="url(#noise)" opacity="0.5"/>
<path d="M255,3790 Q255,3768 282,3772 L396,3782 Q421,3785 421,3802 L421,3806 Q421,3825 398,3825 L300,3820 Q256,3815 255,3800 Z" fill="#000" filter="url(#blur3)"/>
<path d="M257,3980 Q257,3962 284,3968 L396,3977 Q419,3980 419,3994 L419,3998 Q419,4016 396,4016 L300,4012 Q258,4006 257,3990 Z" fill="#000" filter="url(#blur3)"/>
<rect x="462" y="3906" width="110" height="82" fill="#5c5c5c" filter="url(#blur8)"/>
<rect x="464" y="3948" width="108" height="34" fill="#282828" filter="url(#blur8)"/>
<circle cx="721" cy="3761" r="3.3" fill="#707070" opacity="0.75" filter="url(#blur1)"/>
<circle cx="596" cy="3897" r="3.3" fill="#707070" opacity="0.75" filter="url(#blur1)"/>
<circle cx="998" cy="3756" r="3.3" fill="#707070" opacity="0.75" filter="url(#blur1)"/>
<circle cx="977" cy="3812" r="2.8" fill="#707070" opacity="0.75" filter="url(#blur1)"/>
<circle cx="670" cy="3812" r="2.8" fill="#707070" opacity="0.75" filter="url(#blur1)"/>
<circle cx="324" cy="3945" r="2.8" fill="#707070" opacity="0.75" filter="url(#blur1)"/>
<circle cx="1602" cy="3747" r="3.8" fill="#707070" opacity="0.75" filter="url(#blur1)"/>
<circle cx="1578" cy="3742" r="2.8" fill="#707070" opacity="0.75" filter="url(#blur1)"/>
<circle cx="1656" cy="3871" r="3.3" fill="#707070" opacity="0.75" filter="url(#blur1)"/>
<circle cx="1623" cy="3903" r="2.8" fill="#707070" opacity="0.75" filter="url(#blur1)"/>
<circle cx="1623" cy="4003" r="3.3" fill="#707070" opacity="0.75" filter="url(#blur1)"/>
<circle cx="1912" cy="3880" r="3.8" fill="#707070" opacity="0.75" filter="url(#blur1)"/>
<circle cx="1960" cy="3925" r="3.8" fill="#707070" opacity="0.75" filter="url(#blur1)"/>
<circle cx="1842" cy="4003" r="3.3" fill="#707070" opacity="0.75" filter="url(#blur1)"/>
<circle cx="1885" cy="4022" r="3.3" fill="#707070" opacity="0.75" filter="url(#blur1)"/>
<circle cx="1570" cy="3800" r="2.8" fill="#707070" opacity="0.75" filter="url(#blur1)"/>
<circle cx="1580" cy="3820" r="3.3" fill="#707070" opacity="0.75" filter="url(#blur1)"/>
<circle cx="1590" cy="3835" r="2.8" fill="#707070" opacity="0.75" filter="url(#blur1)"/>
<circle cx="1560" cy="3812" r="2.8" fill="#707070" opacity="0.75" filter="url(#blur1)"/>
<circle cx="1300" cy="3790" r="2.8" fill="#707070" opacity="0.75" filter="url(#blur1)"/>
</g>
<rect x="257.0" y="3728.5" width="1740.5" height="319.5" fill="none" stroke="#e2e2e2" stroke-width="3" opacity="0.7"/>
<rect x="252.5" y="3724" width="1749.5" height="328.5" fill="none" stroke="#5e5e5e" stroke-width="4"/>
</g>
</svg>
</body></html>
